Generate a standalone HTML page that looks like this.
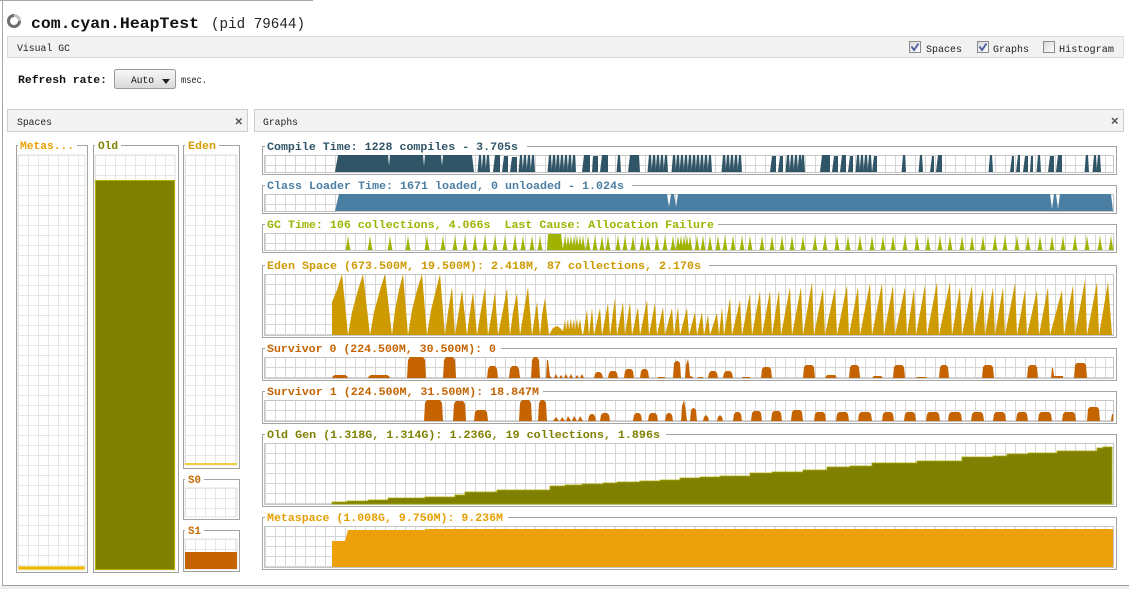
<!DOCTYPE html>
<html><head><meta charset="utf-8"><style>html,body{margin:0;padding:0;background:#fff;overflow:hidden}svg{display:block}</style></head>
<body>
<svg width="1129" height="589" viewBox="0 0 1129 589" xmlns="http://www.w3.org/2000/svg" xmlns:xlink="http://www.w3.org/1999/xlink" font-family="'Liberation Mono','DejaVu Sans Mono',monospace">
<defs>
<pattern id="c1" patternUnits="userSpaceOnUse" x="265" y="155" width="10" height="10"><path d="M0 0.5H10M0.5 0V10" stroke="#d6d6d6" fill="none"/></pattern>
<pattern id="c2" patternUnits="userSpaceOnUse" x="265" y="194" width="10" height="10"><path d="M0 0.5H10M0.5 0V10" stroke="#d6d6d6" fill="none"/></pattern>
<pattern id="c3" patternUnits="userSpaceOnUse" x="265" y="233" width="10" height="10"><path d="M0 0.5H10M0.5 0V10" stroke="#d6d6d6" fill="none"/></pattern>
<pattern id="c4" patternUnits="userSpaceOnUse" x="265" y="274" width="10" height="10"><path d="M0 0.5H10M0.5 0V10" stroke="#d6d6d6" fill="none"/></pattern>
<pattern id="c5" patternUnits="userSpaceOnUse" x="265" y="357" width="10" height="10"><path d="M0 0.5H10M0.5 0V10" stroke="#d6d6d6" fill="none"/></pattern>
<pattern id="c6" patternUnits="userSpaceOnUse" x="265" y="400" width="10" height="10"><path d="M0 0.5H10M0.5 0V10" stroke="#d6d6d6" fill="none"/></pattern>
<pattern id="c7" patternUnits="userSpaceOnUse" x="265" y="443" width="10" height="10"><path d="M0 0.5H10M0.5 0V10" stroke="#d6d6d6" fill="none"/></pattern>
<pattern id="c8" patternUnits="userSpaceOnUse" x="265" y="526" width="10" height="10"><path d="M0 0.5H10M0.5 0V10" stroke="#d6d6d6" fill="none"/></pattern>
<pattern id="s1" patternUnits="userSpaceOnUse" x="18" y="155" width="10" height="10"><path d="M0 0.5H10M0.5 0V10" stroke="#e6e6e6" fill="none"/></pattern>
<pattern id="s2" patternUnits="userSpaceOnUse" x="95" y="155" width="10" height="10"><path d="M0 0.5H10M0.5 0V10" stroke="#e6e6e6" fill="none"/></pattern>
<pattern id="s3" patternUnits="userSpaceOnUse" x="185" y="155" width="10" height="10"><path d="M0 0.5H10M0.5 0V10" stroke="#e6e6e6" fill="none"/></pattern>
<pattern id="s4" patternUnits="userSpaceOnUse" x="185" y="488" width="10" height="10"><path d="M0 0.5H10M0.5 0V10" stroke="#e6e6e6" fill="none"/></pattern>
<pattern id="s5" patternUnits="userSpaceOnUse" x="185" y="539" width="10" height="10"><path d="M0 0.5H10M0.5 0V10" stroke="#e6e6e6" fill="none"/></pattern>
<linearGradient id="btn" x1="0" y1="0" x2="0" y2="1"><stop offset="0" stop-color="#f7f7f7"/><stop offset="1" stop-color="#d9d9d9"/></linearGradient>
<linearGradient id="chk" x1="0" y1="0" x2="1" y2="1"><stop offset="0" stop-color="#d8d8d8"/><stop offset="1" stop-color="#ffffff"/></linearGradient>
<path id="cs" d="M-1.5 172L0 155H2L3 172Z" fill="#2f5567"/>
<path id="gs" d="M-2.5 250L-1 243L0 235L1 243L2.5 250Z" fill="#9fb300"/>
</defs>

<rect width="1129" height="589" fill="#fff"/>
<!-- outer frame -->
<path d="M0 0.5H313" stroke="#a8a8a8"/>
<path d="M2.5 0V585" stroke="#a8a8a8"/>
<rect x="0" y="586" width="1129" height="3" fill="#ededed"/>
<path d="M2 585.5H1129" stroke="#a0a0a0"/>

<!-- title -->
<circle cx="14" cy="21" r="5.5" fill="none" stroke="#c4c4c4" stroke-width="3"/>
<path d="M14 15.5A5.5 5.5 0 1 0 19.5 21" fill="none" stroke="#6e6e6e" stroke-width="3"/>
<text x="31" y="28" font-size="16" font-weight="bold" fill="#111" textLength="168" lengthAdjust="spacingAndGlyphs">com.cyan.HeapTest</text>
<text x="211" y="28" font-size="15" fill="#222" textLength="94" lengthAdjust="spacingAndGlyphs">(pid 79644)</text>

<!-- Visual GC bar -->
<rect x="7.5" y="36.5" width="1116" height="21" fill="#f2f2f2" stroke="#dadada"/>
<text x="17" y="51" font-size="10.5" fill="#222" textLength="53" lengthAdjust="spacingAndGlyphs">Visual GC</text>
<rect x="909.5" y="41.5" width="11" height="11" fill="url(#chk)" stroke="#8c8c8c"/>
<polyline points="911.5,46.5 914,50 918.5,43.5" fill="none" stroke="#4a5aa0" stroke-width="1.8"/>
<text x="926" y="52" font-size="10.5" fill="#222" textLength="36" lengthAdjust="spacingAndGlyphs">Spaces</text>
<rect x="977.5" y="41.5" width="11" height="11" fill="url(#chk)" stroke="#8c8c8c"/>
<polyline points="979.5,46.5 982,50 986.5,43.5" fill="none" stroke="#4a5aa0" stroke-width="1.8"/>
<text x="993" y="52" font-size="10.5" fill="#222" textLength="36" lengthAdjust="spacingAndGlyphs">Graphs</text>
<rect x="1043.5" y="41.5" width="11" height="11" fill="url(#chk)" stroke="#8c8c8c"/>
<text x="1059" y="52" font-size="10.5" fill="#222" textLength="55" lengthAdjust="spacingAndGlyphs">Histogram</text>

<!-- refresh row -->
<text x="18" y="83" font-size="11" font-weight="bold" fill="#111" textLength="89" lengthAdjust="spacingAndGlyphs">Refresh rate:</text>
<rect x="114.5" y="69.5" width="61" height="19" rx="2" fill="url(#btn)" stroke="#9a9a9a"/>
<text x="131" y="83" font-size="10.5" fill="#111" textLength="23" lengthAdjust="spacingAndGlyphs">Auto</text>
<polygon points="162,79 170,79 166,84" fill="#222"/>
<text x="181" y="83" font-size="10" fill="#222" textLength="26" lengthAdjust="spacingAndGlyphs">msec.</text>

<!-- panel headers -->
<rect x="7.5" y="109.5" width="240" height="22" fill="#f3f3f3" stroke="#cdcdcd"/>
<text x="17" y="125" font-size="10.5" fill="#222" textLength="35" lengthAdjust="spacingAndGlyphs">Spaces</text>
<path d="M236 118.5L241.5 124M241.5 118.5L236 124" stroke="#555" stroke-width="1.5"/>
<rect x="254.5" y="109.5" width="869" height="22" fill="#f3f3f3" stroke="#cdcdcd"/>
<text x="263" y="125" font-size="10.5" fill="#222" textLength="35" lengthAdjust="spacingAndGlyphs">Graphs</text>
<path d="M1112 118L1117.5 123.5M1117.5 118L1112 123.5" stroke="#555" stroke-width="1.5"/>

<!-- ========== SPACES ========== -->
<rect x="18" y="155" width="67" height="415" fill="url(#s1)" stroke="#e2e2e2"/>
<rect x="95" y="155" width="80" height="415" fill="url(#s2)" stroke="#e2e2e2"/>
<rect x="185" y="155" width="52" height="310" fill="url(#s3)" stroke="#e2e2e2"/>
<rect x="185" y="488" width="52" height="29" fill="url(#s4)" stroke="#e2e2e2"/>
<rect x="185" y="539" width="52" height="30" fill="url(#s5)" stroke="#e2e2e2"/>

<rect x="18.5" y="566.5" width="66" height="3" fill="#eeb200" stroke="#f6d860"/>
<rect x="95.5" y="180.5" width="79" height="389" fill="#808000" stroke="#b4b400"/>
<rect x="185" y="463" width="52" height="2" fill="#f0d040"/>
<rect x="185" y="552" width="52" height="17" fill="#c56300"/>

<g fill="none" stroke="#a2a2a2">
<path d="M18 145.5H16.5V572.5H87.5V145.5H77"/>
<path d="M95 145.5H93.5V572.5H178.5V145.5H121"/>
<path d="M185 145.5H183.5V468.5H239.5V145.5H219"/>
<path d="M185 479.5H183.5V519.5H239.5V479.5H204"/>
<path d="M185 530.5H183.5V571.5H239.5V530.5H204"/>
</g>
<g font-size="11" font-weight="bold">
<text x="20" y="149" fill="#e8a000" textLength="54" lengthAdjust="spacingAndGlyphs">Metas...</text>
<text x="98" y="149" fill="#808000" textLength="20" lengthAdjust="spacingAndGlyphs">Old</text>
<text x="188" y="149" fill="#d39c00" textLength="28" lengthAdjust="spacingAndGlyphs">Eden</text>
<text x="188" y="483" fill="#c86a00" textLength="13" lengthAdjust="spacingAndGlyphs">S0</text>
<text x="188" y="534" fill="#c86a00" textLength="13" lengthAdjust="spacingAndGlyphs">S1</text>
</g>

<!-- ========== GRAPHS ========== -->
<g stroke="#c6c6c6">
<rect x="264.5" y="155.5" width="849" height="17" fill="url(#c1)"/>
<rect x="264.5" y="194.5" width="849" height="17" fill="url(#c2)"/>
<rect x="264.5" y="233.5" width="849" height="17" fill="url(#c3)"/>
<rect x="264.5" y="274.5" width="849" height="61" fill="url(#c4)"/>
<rect x="264.5" y="357.5" width="849" height="21" fill="url(#c5)"/>
<rect x="264.5" y="400.5" width="849" height="21" fill="url(#c6)"/>
<rect x="264.5" y="443.5" width="849" height="61" fill="url(#c7)"/>
<rect x="264.5" y="526.5" width="849" height="41" fill="url(#c8)"/>
</g>

<!-- compile time -->
<path fill="#2f5567" d="M335 172L338 155H388L389 166L390 155H423L424 166L425 155H441L442 166L443 155H472L474 172Z
M493 172L495 155H500V172Z M502 172L504 156H508V172Z M510 172L512 157H517V172Z
M582 172L584 155H590V172Z M592 172L593 156H598V172Z M600 172L602 155H608V172Z
M628 172L630 155H639L640 172Z
M770 172L772 156H776V172Z M778 172L780 156H783V172Z
M820 172L822 155H830V172Z M832 172L834 156H838V172Z M840 172L842 155H846V172Z M848 172L850 156H853V172Z M872 172L874 156H877V172Z
M930 172L932 156H934V172Z M936 172L938 155H942V172Z
M1010 172L1012 156H1014V172Z M1016 172L1018 155H1020V172Z M1023 172L1025 156H1028V172Z M1030 172L1031 156H1033V172Z
M1048 172L1050 156H1054V172Z M1056 172L1058 155H1062V172Z"/>
<use xlink:href="#cs" href="#cs" x="479"/><use xlink:href="#cs" href="#cs" x="483"/><use xlink:href="#cs" href="#cs" x="487"/>
<use xlink:href="#cs" href="#cs" x="520"/><use xlink:href="#cs" href="#cs" x="524"/><use xlink:href="#cs" href="#cs" x="528"/><use xlink:href="#cs" href="#cs" x="532"/>
<use xlink:href="#cs" href="#cs" x="549"/><use xlink:href="#cs" href="#cs" x="553"/><use xlink:href="#cs" href="#cs" x="557"/><use xlink:href="#cs" href="#cs" x="561"/><use xlink:href="#cs" href="#cs" x="565"/><use xlink:href="#cs" href="#cs" x="569"/><use xlink:href="#cs" href="#cs" x="573"/>
<use xlink:href="#cs" href="#cs" x="618"/>
<use xlink:href="#cs" href="#cs" x="649"/><use xlink:href="#cs" href="#cs" x="653"/><use xlink:href="#cs" href="#cs" x="657"/><use xlink:href="#cs" href="#cs" x="661"/><use xlink:href="#cs" href="#cs" x="665"/>
<use xlink:href="#cs" href="#cs" x="673"/><use xlink:href="#cs" href="#cs" x="677"/><use xlink:href="#cs" href="#cs" x="681"/><use xlink:href="#cs" href="#cs" x="685"/><use xlink:href="#cs" href="#cs" x="689"/><use xlink:href="#cs" href="#cs" x="693"/><use xlink:href="#cs" href="#cs" x="697"/><use xlink:href="#cs" href="#cs" x="701"/><use xlink:href="#cs" href="#cs" x="705"/><use xlink:href="#cs" href="#cs" x="709"/>
<use xlink:href="#cs" href="#cs" x="723"/><use xlink:href="#cs" href="#cs" x="727"/><use xlink:href="#cs" href="#cs" x="731"/><use xlink:href="#cs" href="#cs" x="735"/><use xlink:href="#cs" href="#cs" x="739"/>
<use xlink:href="#cs" href="#cs" x="787"/><use xlink:href="#cs" href="#cs" x="791"/><use xlink:href="#cs" href="#cs" x="795"/><use xlink:href="#cs" href="#cs" x="799"/><use xlink:href="#cs" href="#cs" x="802"/>
<use xlink:href="#cs" href="#cs" x="857"/><use xlink:href="#cs" href="#cs" x="861"/><use xlink:href="#cs" href="#cs" x="865"/><use xlink:href="#cs" href="#cs" x="869"/>
<use xlink:href="#cs" href="#cs" x="903"/><use xlink:href="#cs" href="#cs" x="920"/><use xlink:href="#cs" href="#cs" x="990"/><use xlink:href="#cs" href="#cs" x="1038"/>
<use xlink:href="#cs" href="#cs" x="1086"/><use xlink:href="#cs" href="#cs" x="1094"/><use xlink:href="#cs" href="#cs" x="1098"/>

<!-- class loader -->
<path fill="#4a7ea2" d="M335 211L339 194H667L669 207L671 194H674L676 207L678 194H1050L1052 209L1054 194H1056L1058 209L1060 194H1111L1113 211Z"/>

<!-- GC time -->
<path fill="#9fb300" d="M547 250L548 234H561L563 250Z"/>
<g>
<use xlink:href="#gs" href="#gs" x="348"/><use xlink:href="#gs" href="#gs" x="370"/><use xlink:href="#gs" href="#gs" x="390"/><use xlink:href="#gs" href="#gs" x="408"/><use xlink:href="#gs" href="#gs" x="427"/><use xlink:href="#gs" href="#gs" x="443"/><use xlink:href="#gs" href="#gs" x="455"/><use xlink:href="#gs" href="#gs" x="465"/><use xlink:href="#gs" href="#gs" x="475"/><use xlink:href="#gs" href="#gs" x="485"/><use xlink:href="#gs" href="#gs" x="495"/><use xlink:href="#gs" href="#gs" x="505"/><use xlink:href="#gs" href="#gs" x="515"/><use xlink:href="#gs" href="#gs" x="523"/><use xlink:href="#gs" href="#gs" x="532"/><use xlink:href="#gs" href="#gs" x="540"/>
<use xlink:href="#gs" href="#gs" x="565"/><use xlink:href="#gs" href="#gs" x="568"/><use xlink:href="#gs" href="#gs" x="571"/><use xlink:href="#gs" href="#gs" x="574"/><use xlink:href="#gs" href="#gs" x="577"/><use xlink:href="#gs" href="#gs" x="580"/><use xlink:href="#gs" href="#gs" x="583"/>
<use xlink:href="#gs" href="#gs" x="588"/><use xlink:href="#gs" href="#gs" x="595"/><use xlink:href="#gs" href="#gs" x="602"/><use xlink:href="#gs" href="#gs" x="608"/><use xlink:href="#gs" href="#gs" x="618"/><use xlink:href="#gs" href="#gs" x="625"/><use xlink:href="#gs" href="#gs" x="633"/><use xlink:href="#gs" href="#gs" x="642"/><use xlink:href="#gs" href="#gs" x="648"/><use xlink:href="#gs" href="#gs" x="657"/><use xlink:href="#gs" href="#gs" x="665"/><use xlink:href="#gs" href="#gs" x="673"/>
<use xlink:href="#gs" href="#gs" x="678"/><use xlink:href="#gs" href="#gs" x="681"/><use xlink:href="#gs" href="#gs" x="684"/><use xlink:href="#gs" href="#gs" x="687"/><use xlink:href="#gs" href="#gs" x="690"/>
<use xlink:href="#gs" href="#gs" x="697"/><use xlink:href="#gs" href="#gs" x="703"/><use xlink:href="#gs" href="#gs" x="710"/><use xlink:href="#gs" href="#gs" x="718"/><use xlink:href="#gs" href="#gs" x="725"/><use xlink:href="#gs" href="#gs" x="733"/><use xlink:href="#gs" href="#gs" x="742"/>
<use xlink:href="#gs" href="#gs" x="750"/><use xlink:href="#gs" href="#gs" x="762"/><use xlink:href="#gs" href="#gs" x="772"/><use xlink:href="#gs" href="#gs" x="782"/><use xlink:href="#gs" href="#gs" x="792"/><use xlink:href="#gs" href="#gs" x="803"/><use xlink:href="#gs" href="#gs" x="815"/><use xlink:href="#gs" href="#gs" x="825"/><use xlink:href="#gs" href="#gs" x="837"/><use xlink:href="#gs" href="#gs" x="848"/><use xlink:href="#gs" href="#gs" x="860"/><use xlink:href="#gs" href="#gs" x="872"/><use xlink:href="#gs" href="#gs" x="883"/><use xlink:href="#gs" href="#gs" x="893"/><use xlink:href="#gs" href="#gs" x="905"/><use xlink:href="#gs" href="#gs" x="917"/><use xlink:href="#gs" href="#gs" x="928"/><use xlink:href="#gs" href="#gs" x="940"/><use xlink:href="#gs" href="#gs" x="950"/><use xlink:href="#gs" href="#gs" x="962"/><use xlink:href="#gs" href="#gs" x="972"/><use xlink:href="#gs" href="#gs" x="983"/><use xlink:href="#gs" href="#gs" x="995"/><use xlink:href="#gs" href="#gs" x="1005"/><use xlink:href="#gs" href="#gs" x="1017"/><use xlink:href="#gs" href="#gs" x="1028"/><use xlink:href="#gs" href="#gs" x="1040"/><use xlink:href="#gs" href="#gs" x="1052"/><use xlink:href="#gs" href="#gs" x="1063"/><use xlink:href="#gs" href="#gs" x="1075"/><use xlink:href="#gs" href="#gs" x="1087"/><use xlink:href="#gs" href="#gs" x="1100"/><use xlink:href="#gs" href="#gs" x="1111"/>
</g>

<!-- eden -->
<path fill="#cd9a00" d="M332 335L332 302L337 290L342 274L348 335L352 312L358 290L363 274L370 335L374 312L380 290L385 274L392 335L395 310L399 290L403 274L408 335L412 310L417 290L422 274L427 335L431 310L436 290L440 274L445 335L448 312L452 287L455 335L459 310L462 290L467 335L470 312L473 292L477 335L481 310L485 288L488 335L492 312L495 292L498 335L503 310L507 288L510 335L513 312L517 293L520 335L524 310L528 287L532 335L535 315L537 302L540 335L542 315L545 298L549 335L550 333L553 328L557 326L560 328L563 331L565 320L566 330L568 319L569 330L571 318L572 329L574 319L575 330L577 318L578 329L580 319L582 333L583 335L587 310L589 335L592 308L594 335L600 308L602 335L608 303L610 335L615 298L617 335L623 302L625 335L630 302L632 335L638 307L640 335L647 300L649 335L655 303L657 335L663 307L665 335L672 308L674 335L678 307L680 335L687 308L689 335L695 312L697 335L702 312L704 335L708 315L710 335L717 313L719 335L722 307L724 335L730 298L732 335L740 300L742 335L750 293L752 335L760 291L762 335L770 291L772 335L779 290L781 335L790 287L792 335L801 287L803 335L812 282L814 335L823 288L825 335L835 288L837 335L847 285L849 335L858 287L860 335L870 283L872 335L882 283L884 335L893 285L895 335L905 287L907 335L914 288L916 335L925 285L927 335L937 282L939 335L950 282L952 335L960 287L962 335L972 285L974 335L983 288L985 335L993 287L995 335L1003 287L1005 335L1015 283L1017 335L1025 290L1027 335L1037 290L1039 335L1048 287L1050 335L1062 290L1064 335L1073 285L1075 335L1085 280L1087 335L1097 282L1099 335L1108 282L1112 335Z"/>

<!-- survivor 0 -->
<path fill="#c56300" d="M332 378L333 376L335 375H345L347 376L348 378Z
M368 378L369 376L371 375H387L389 376L390 378Z
M407 378L408 360L410 357H423L425 360L426 378Z
M443 378L444 360L446 357H453L455 360L456 378Z
M487 378L488 369L490 366H495L497 369L498 378Z
M509 378L510 369L512 366H517L519 369L520 378Z
M531 378L532 360L534 357H537L539 360L540 378Z
M546 378L547 360L548 360L550 376L552 378Z
M554 378L556 374L558 378L559 378L561 375L563 378L564 378L566 374L568 378L569 378L571 374L573 378L575 378L577 375L579 378L580 378L582 374L584 378Z
M594 378L595 374L597 372H600L602 374L603 378Z
M608 378L609 373L611 371H615L617 373L618 378Z
M624 378L625 371L627 369H631L633 371L634 378Z
M640 378L641 371L643 369H646L648 371L649 378Z
M658 378L658 377H665L665 378Z
M673 378L674 363L676 361H678L680 363L681 378Z
M685 378L686 365L688 359L689 365L690 376L693 377L693 378Z
M698 378L698 377H703L703 378Z
M708 378L709 373L711 371H715L717 373L718 378Z
M723 378L724 373L726 371H730L732 373L733 378Z
M742 378L742 377H750L750 378Z
M761 378L762 369L764 367H769L771 369L772 378Z
M803 378L804 367L806 365H812L814 367L815 378Z
M825 378L827 375H835L837 378Z
M849 378L850 367L852 365H857L859 367L860 378Z
M872 378L874 376H881L883 378Z
M893 378L894 367L896 365H902L904 367L905 378Z
M916 378L917 377H926L927 378Z
M939 378L940 367L942 365H946L948 367L949 378Z
M982 378L983 367L985 365H991L993 367L994 378Z
M1027 378L1028 367L1030 365H1035L1037 367L1038 378Z
M1051 378L1052 368L1053 368L1054 376H1063L1063 378Z
M1074 378L1075 365L1077 363H1084L1086 365L1087 378Z"/>

<!-- survivor 1 -->
<path fill="#c56300" d="M424 421L425 403L427 400H440L442 403L443 421Z
M453 421L454 404L456 401H463L465 404L466 421Z
M474 421L475 412L477 410H485L487 412L488 421Z
M519 421L520 403L522 400H529L531 403L532 421Z
M538 421L539 403L541 400H544L546 403L547 421Z
M553 421L556 417L559 421L560 421L562 417L565 421L566 421L568 416L571 421L572 421L574 416L577 421L578 421L580 416L583 421Z
M588 421L589 416L591 414H593L595 416L596 421Z
M600 421L601 415L603 413H607L609 415L610 421Z
M633 421L634 415L636 413H639L641 415L642 421Z
M648 421L649 415L651 413H655L657 415L658 421Z
M665 421L666 415L668 413H670L672 415L673 421Z
M681 421L682 406L684 400L685 406L686 412L687 421Z
M690 421L691 410L693 408H694L696 410L697 421Z
M703 421L704 417L706 415L708 417L709 421Z
M717 421L718 417L720 415L722 417L723 421Z
M733 421L734 414L736 412H739L741 414L742 421Z
M751 421L752 413L754 411H759L761 413L762 421Z
M771 421L772 413L774 411H779L781 413L782 421Z
M791 421L792 412L794 410H800L802 412L803 421Z
M814 421L815 414L817 412H823L825 414L826 421Z
M836 421L837 414L839 412H846L848 414L849 421Z
M858 421L859 414L861 412H869L871 414L872 421Z
M882 421L883 414L885 412H891L893 414L894 421Z
M904 421L905 414L907 412H913L915 414L916 421Z
M926 421L927 414L929 412H937L939 414L940 421Z
M948 421L949 414L951 412H959L961 414L962 421Z
M971 421L972 414L974 412H981L983 414L984 421Z
M993 421L994 414L996 412H1003L1005 414L1006 421Z
M1016 421L1017 414L1019 412H1025L1027 414L1028 421Z
M1038 421L1039 414L1041 412H1049L1051 414L1052 421Z
M1062 421L1063 414L1065 412H1073L1075 414L1076 421Z
M1087 421L1088 409L1090 407H1097L1099 409L1100 421Z
M1111 421L1112 414L1113 414L1113 421Z"/>

<!-- old gen -->
<path fill="#808000" stroke="#a8a800" stroke-width="0.8" d="M332 504L332 502H347V501H368V500H388V498H425V497H455V495H465V492H497V490H550V486H565V485H582V484H603V483H617V482H640V481H660V480H680V478H700V477H720V476H750V473H772V472H803V470H827V467H850V466H872V463H917V461H962V457H993V456H1007V454H1028V453H1057V451H1097V448H1103V447H1112V504Z"/>

<!-- metaspace -->
<path fill="#eca00c" d="M332 567V541H345L348 530H425V529H1113V567Z"/>

<!-- titled borders -->
<g fill="none" stroke="#a4a4a4">
<path d="M265 146.5H262.5V174.5H1116.5V146.5H527"/>
<path d="M265 185.5H262.5V213.5H1116.5V185.5H632"/>
<path d="M265 224.5H262.5V252.5H1116.5V224.5H718"/>
<path d="M265 265.5H262.5V337.5H1116.5V265.5H709"/>
<path d="M265 348.5H262.5V380.5H1116.5V348.5H501"/>
<path d="M265 391.5H262.5V423.5H1116.5V391.5H543"/>
<path d="M265 434.5H262.5V506.5H1116.5V434.5H666"/>
<path d="M265 517.5H262.5V569.5H1116.5V517.5H508"/>
</g>

<g font-size="11" font-weight="bold">
<text x="267" y="150" fill="#2f5567" textLength="251" lengthAdjust="spacingAndGlyphs">Compile Time: 1228 compiles - 3.705s</text>
<text x="267" y="189" fill="#4a7ea2" textLength="357" lengthAdjust="spacingAndGlyphs">Class Loader Time: 1671 loaded, 0 unloaded - 1.024s</text>
<text x="267" y="228" fill="#9fb300" textLength="447" lengthAdjust="spacingAndGlyphs" xml:space="preserve">GC Time: 106 collections, 4.066s  Last Cause: Allocation Failure</text>
<text x="267" y="269" fill="#cd9a00" textLength="434" lengthAdjust="spacingAndGlyphs">Eden Space (673.500M, 19.500M): 2.418M, 87 collections, 2.170s</text>
<text x="267" y="352" fill="#c56300" textLength="229" lengthAdjust="spacingAndGlyphs">Survivor 0 (224.500M, 30.500M): 0</text>
<text x="267" y="395" fill="#c56300" textLength="272" lengthAdjust="spacingAndGlyphs">Survivor 1 (224.500M, 31.500M): 18.847M</text>
<text x="267" y="438" fill="#808000" textLength="393" lengthAdjust="spacingAndGlyphs">Old Gen (1.318G, 1.314G): 1.236G, 19 collections, 1.896s</text>
<text x="267" y="521" fill="#e59f00" textLength="236" lengthAdjust="spacingAndGlyphs">Metaspace (1.008G, 9.750M): 9.236M</text>
</g>
</svg>
</body></html>
